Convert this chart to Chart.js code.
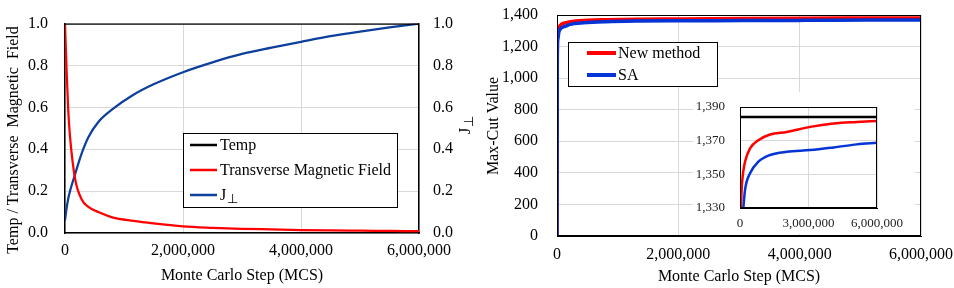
<!DOCTYPE html>
<html>
<head>
<meta charset="utf-8">
<script src="https://cdn.jsdelivr.net/npm/chart.js@4.4.1/dist/chart.umd.min.js"></script>
<style>
  html, body { margin: 0; padding: 0; background: #fff; }
  #wrap { position: relative; width: 954px; height: 288px; overflow: hidden; }
  #left { position: absolute; left: 0; top: 0; }
  #right { position: absolute; left: 480px; top: 0; }
  #inset { position: absolute; left: 693px; top: 92px; background: #fff; }
</style>
</head>
<body>
<div id="wrap">
  <canvas id="left" width="480" height="288"></canvas>
  <canvas id="right" width="474" height="288"></canvas>
  <canvas id="inset" width="222" height="142"></canvas>
</div>
<script>
// ---- data ----
// left panel: annealing schedule
const fieldSteps  = [0, 28e3, 56e3, 85e3, 170e3, 283e3, 396e3, 565e3, 800e3, 1.16e6, 1.5e6, 2e6, 2.5e6, 3e6, 3.5e6, 4e6, 4.5e6, 5e6, 5.5e6, 6e6];
const tempValues  = [1, 1, 1, 1, 1, 1, 1, 1, 1, 1, 1, 1, 1, 1, 1, 1, 1, 1, 1, 1];
const fieldValues = [1.0, 0.77, 0.58, 0.46, 0.26, 0.16, 0.125, 0.10, 0.075, 0.058, 0.046, 0.032, 0.025, 0.020, 0.017, 0.014, 0.012, 0.011, 0.010, 0.009];
const jPerpValues = [0.06, 0.12, 0.166, 0.20, 0.28, 0.38, 0.457, 0.53, 0.59, 0.66, 0.71, 0.768, 0.815, 0.855, 0.885, 0.913, 0.94, 0.962, 0.982, 1.0];

// right panel: max-cut value
const cutSteps     = [0, 5e3, 15e3, 30e3, 44e3, 60e3, 80e3, 117e3, 146e3, 220e3, 440e3, 805e3, 1.32e6, 2.05e6, 3.07e6, 4.1e6, 5.12e6, 6e6];
const newMethodCut = [0, 1250, 1300, 1322, 1330, 1337, 1343, 1348.7, 1352, 1357.5, 1365.4, 1370.3, 1373.7, 1375.2, 1378.2, 1380.2, 1381.1, 1381.7];
const saCut        = [0, 1140, 1250, 1290, 1305, 1313, 1320, 1326, 1330, 1340.8, 1350.6, 1357.5, 1361.5, 1363.4, 1364.4, 1366, 1367.8, 1368.7];
const optimumSteps = [0, 6e6];
const optimumCut   = [1384, 1384];

const FONT = '"Liberation Serif", "Times New Roman", serif';
Chart.defaults.font.family = FONT;
Chart.defaults.font.size = 16;
Chart.defaults.color = '#000';

const GRID = '#d9d9d9';
const toXY = (xs, ys) => xs.map((x, i) => ({ x: x, y: ys[i] }));
const commas = v => Number(v).toLocaleString('en-US');
// gridlines with an invisible tick mark used as label gap
const gridGap = gap => ({ color: GRID, drawTicks: true, tickLength: gap, tickColor: 'rgba(0,0,0,0)' });

// draw "J⊥" style labels with a subscript
function drawLabel(ctx, text, x, y, size) {
  const i = text.indexOf('⊥');
  if (i < 0) { ctx.fillText(text, x, y); return; }
  const base = text.slice(0, i);
  ctx.fillText(base, x, y);
  const w = ctx.measureText(base).width;
  const old = ctx.font;
  ctx.font = Math.round(size * 0.8) + 'px ' + FONT;
  ctx.fillText('⊥', x + w + 1, y + size * 0.25);
  ctx.font = old;
}

// legend box inside the plot (local plugin, config kept in closure)
function boxLegend(o) {
  return {
    id: 'boxLegend',
    afterDraw(chart) {
      const ctx = chart.ctx;
      ctx.save();
      ctx.fillStyle = '#fff';
      ctx.fillRect(o.box[0], o.box[1], o.box[2], o.box[3]);
      ctx.strokeStyle = '#000';
      ctx.lineWidth = 1;
      ctx.strokeRect(o.box[0] + 0.5, o.box[1] + 0.5, o.box[2], o.box[3]);
      ctx.font = o.size + 'px ' + FONT;
      ctx.textBaseline = 'middle';
      ctx.textAlign = 'left';
      o.list.forEach((di, k) => {
        const ds = chart.data.datasets[di];
        const y = o.rows[k];
        ctx.strokeStyle = ds.borderColor;
        ctx.lineWidth = o.lineWidth;
        ctx.beginPath();
        ctx.moveTo(o.sample[0], y);
        ctx.lineTo(o.sample[1], y);
        ctx.stroke();
        ctx.fillStyle = '#000';
        drawLabel(ctx, ds.label, o.textX, y + 1, o.size);
      });
      ctx.restore();
    }
  };
}

// rotated y-axis titles
function yTitles(list) {
  return {
    id: 'yTitles',
    afterDraw(chart) {
      const ctx = chart.ctx;
      list.forEach(t => {
        ctx.save();
        ctx.translate(t.x, t.y);
        ctx.rotate(-Math.PI / 2);
        ctx.font = '16px ' + FONT;
        ctx.fillStyle = '#000';
        ctx.textAlign = 'left';
        ctx.textBaseline = 'middle';
        const w = ctx.measureText(t.text).width;
        drawLabel(ctx, t.text, -w / 2, 0, 16);
        ctx.restore();
      });
    }
  };
}

// full black frame round the plot area
const frame = {
  id: 'frame',
  afterDraw(chart) {
    const a = chart.chartArea, ctx = chart.ctx;
    ctx.save();
    ctx.strokeStyle = '#000';
    ctx.lineWidth = 1;
    ctx.strokeRect(Math.round(a.left) + 0.5, Math.round(a.top) + 0.5,
                   Math.round(a.right - a.left) - 1, Math.round(a.bottom - a.top) - 1);
    ctx.restore();
  }
};

const lineStyle = (color, w) => ({
  borderColor: color, backgroundColor: color, borderWidth: w,
  pointRadius: 0, fill: false, cubicInterpolationMode: 'monotone'
});

// --- 1. schedule chart ---
new Chart(document.getElementById('left'), {
  type: 'line',
  data: {
    datasets: [
      Object.assign({ label: 'Temp', data: toXY(fieldSteps, tempValues), yAxisID: 'y' }, lineStyle('#000000', 2.5)),
      Object.assign({ label: 'Transverse Magnetic Field', data: toXY(fieldSteps, fieldValues), yAxisID: 'y' }, lineStyle('#ff0000', 2.25)),
      Object.assign({ label: 'J⊥', data: toXY(fieldSteps, jPerpValues), yAxisID: 'y1' }, lineStyle('#0d3f9c', 2.25))
    ]
  },
  plugins: [
    boxLegend({ box: [183, 133, 214, 74], rows: [145, 170, 195], list: [0, 1, 2], sample: [190, 217], textX: 220, lineWidth: 2.5, size: 16 }),
    yTitles([{ text: 'Temp / Transverse  Magnetic  Field', x: 14, y: 140 }, { text: 'J⊥', x: 466, y: 124 }])
  ],
  options: {
    responsive: false, animation: false,
    layout: { padding: { top: 14 } },
    plugins: { legend: { display: false }, tooltip: { enabled: false } },
    scales: {
      x: {
        type: 'linear', min: 0, max: 6e6,
        grid: gridGap(8),
        border: { color: '#000', width: 1.5 },
        ticks: { stepSize: 2e6, padding: 0, maxRotation: 0, autoSkip: false, callback: commas },
        title: { display: true, text: 'Monte Carlo Step (MCS)', padding: { top: 0, bottom: 3 } },
        afterFit(s) { s.height = 55; }
      },
      y: {
        min: 0, max: 1,
        grid: gridGap(17),
        border: { color: '#000', width: 1.5 },
        ticks: { stepSize: 0.2, padding: 0, callback: v => v.toFixed(1) },
        afterFit(s) { s.width = 65; }
      },
      y1: {
        position: 'right', min: 0, max: 1,
        grid: { display: false, drawTicks: false },
        border: { color: '#000', width: 1.5 },
        ticks: { stepSize: 0.2, padding: 14, callback: v => v.toFixed(1) },
        afterFit(s) { s.width = 61; }
      }
    }
  }
});

// --- 2. max-cut chart ---
new Chart(document.getElementById('right'), {
  type: 'line',
  data: {
    datasets: [
      Object.assign({ label: 'New method', data: toXY(cutSteps, newMethodCut), order: 1 }, lineStyle('#ff0000', 3.5)),
      Object.assign({ label: 'SA', data: toXY(cutSteps, saCut), order: 0 }, lineStyle('#0433d6', 3.5))
    ]
  },
  plugins: [
    frame,
    boxLegend({ box: [88, 42, 149, 44], rows: [53, 75], list: [0, 1], sample: [107, 136], textX: 138, lineWidth: 4, size: 16 }),
    yTitles([{ text: 'Max-Cut Value', x: 14, y: 126 }])
  ],
  options: {
    responsive: false, animation: false,
    layout: { padding: { top: 15, right: 33 } },
    plugins: { legend: { display: false }, tooltip: { enabled: false } },
    scales: {
      x: {
        type: 'linear', min: 0, max: 6e6,
        grid: gridGap(9),
        border: { color: '#000' },
        ticks: { stepSize: 2e6, padding: 0, maxRotation: 0, autoSkip: false, callback: commas },
        title: { display: true, text: 'Monte Carlo Step (MCS)', padding: { top: 0, bottom: 2 } },
        afterFit(s) { s.height = 52; }
      },
      y: {
        min: 0, max: 1400,
        grid: gridGap(19),
        border: { color: '#000' },
        ticks: { stepSize: 200, padding: 0, callback: commas },
        afterFit(s) { s.width = 77; }
      }
    }
  }
});

// --- 3. zoomed inset ---
new Chart(document.getElementById('inset'), {
  type: 'line',
  data: {
    datasets: [
      Object.assign({ label: 'Optimum', data: toXY(optimumSteps, optimumCut), order: 2 }, lineStyle('#000000', 2.5)),
      Object.assign({ label: 'New method', data: toXY(cutSteps, newMethodCut), order: 1 }, lineStyle('#ff0000', 2.5)),
      Object.assign({ label: 'SA', data: toXY(cutSteps, saCut), order: 0 }, lineStyle('#0433d6', 2.5))
    ]
  },
  plugins: [frame],
  options: {
    responsive: false, animation: false,
    layout: { padding: { top: 15, right: 38 } },
    plugins: { legend: { display: false }, tooltip: { enabled: false } },
    scales: {
      x: {
        type: 'linear', min: 0, max: 6e6,
        grid: gridGap(8),
        border: { color: '#000' },
        ticks: { stepSize: 3e6, padding: 0, maxRotation: 0, autoSkip: false, color: '#222', font: { size: 13 }, callback: commas },
        afterFit(s) { s.height = 26; }
      },
      y: {
        min: 1330, max: 1390,
        grid: gridGap(15),
        border: { color: '#000' },
        ticks: { stepSize: 20, padding: 0, color: '#222', font: { size: 13 }, callback: commas },
        afterFit(s) { s.width = 47; }
      }
    }
  }
});
</script>
</body>
</html>
